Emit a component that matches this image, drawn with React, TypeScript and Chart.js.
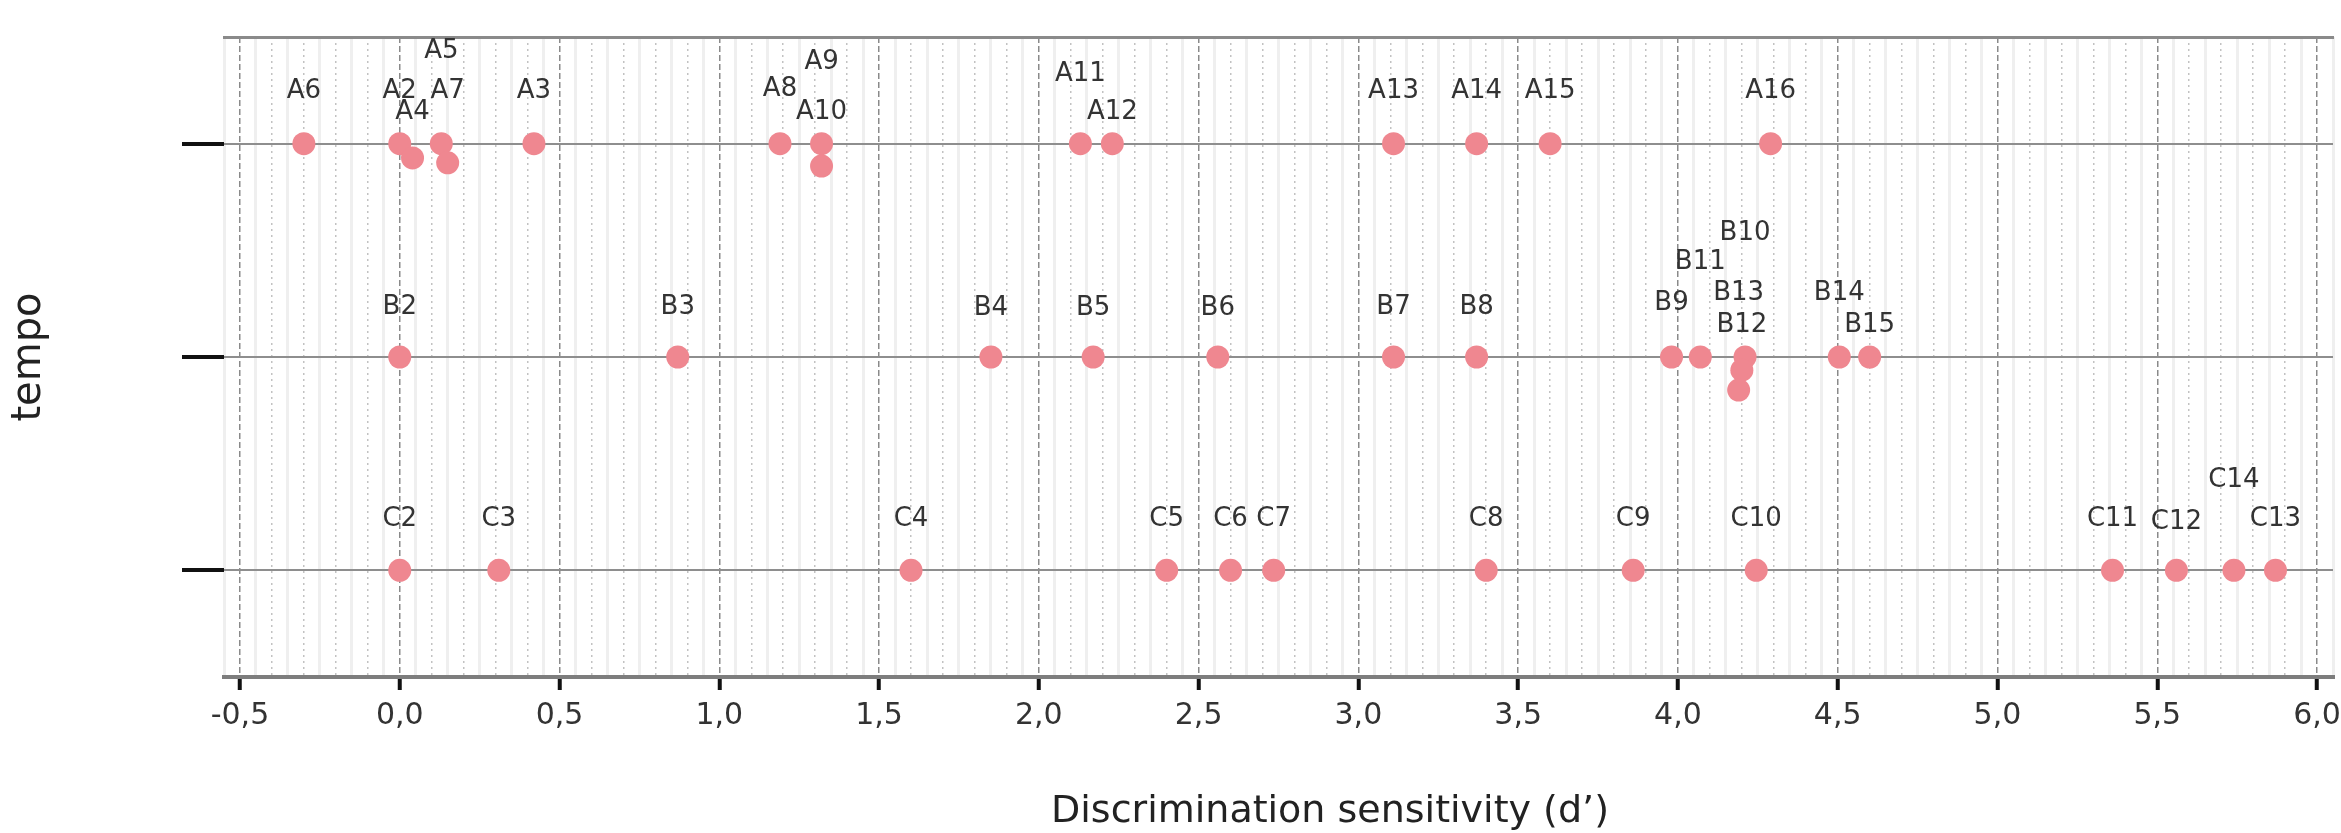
import { useEffect, useRef } from "react";
import { Chart, registerables } from "chart.js";

Chart.register(...registerables);

// ---------- data ----------
const ROW_A_NAMES = ["A2", "A3", "A4", "A5", "A6", "A7", "A8", "A9", "A10", "A11", "A12", "A13", "A14", "A15", "A16"];
const ROW_A_DPRIME = [0.0, 0.42, 0.04, 0.13, -0.3, 0.15, 1.19, 1.32, 1.32, 2.13, 2.23, 3.11, 3.37, 3.6, 4.29];
const ROW_A_Y = [3, 3, 2.933, 3, 3, 2.91, 3, 3, 2.895, 3, 3, 3, 3, 3, 3];

const ROW_B_NAMES = ["B2", "B3", "B4", "B5", "B6", "B7", "B8", "B9", "B10", "B11", "B12", "B13", "B14", "B15"];
const ROW_B_DPRIME = [0.0, 0.87, 1.85, 2.17, 2.56, 3.11, 3.37, 3.98, 4.21, 4.07, 4.2, 4.19, 4.505, 4.6];
const ROW_B_Y = [2, 2, 2, 2, 2, 2, 2, 2, 2, 2, 1.938, 1.845, 2, 2];

const ROW_C_NAMES = ["C2", "C3", "C4", "C5", "C6", "C7", "C8", "C9", "C10", "C11", "C12", "C13", "C14"];
const ROW_C_DPRIME = [0.0, 0.31, 1.6, 2.4, 2.6, 2.735, 3.4, 3.86, 4.245, 5.36, 5.56, 5.87, 5.74];
const ROW_C_Y = [1, 1, 1, 1, 1, 1, 1, 1, 1, 1, 1, 1, 1];

const ROW_LEVELS = [3, 2, 1]; // A, B, C rows on the y axis

// x axis ticks
const X_MIN = -0.55;
const X_MAX = 6.05;
const X_MAJOR_VALUES = [-0.5, 0, 0.5, 1, 1.5, 2, 2.5, 3, 3.5, 4, 4.5, 5, 5.5, 6];
const X_TICK_LABELS = ["-0,5", "0,0", "0,5", "1,0", "1,5", "2,0", "2,5", "3,0", "3,5", "4,0", "4,5", "5,0", "5,5", "6,0"];
const Y_MIN = 0.5;
const Y_MAX = 3.5;

const X_TITLE = "Discrimination sensitivity (d’)";
const Y_TITLE = "tempo";

// ---------- label layout (pixels above the row line) ----------
const ROW_A_LABEL_RISE = [52, 52, 31, 92, 52, 52, 54, 81, 31, 69, 31, 52, 52, 52, 52];
const ROW_B_LABEL_RISE = [50, 50, 49, 49, 49, 50, 50, 54, 124, 95, 32, 64, 64, 32];
const ROW_C_LABEL_RISE = [51, 51, 51, 51, 51, 51, 51, 51, 51, 51, 48, 51, 90];

const FONT = '"DejaVu Sans", "Liberation Sans", sans-serif';
const POINT_COLOR = "#EF8790";

const ROWS = [
  { names: ROW_A_NAMES, d: ROW_A_DPRIME, y: ROW_A_Y, rise: ROW_A_LABEL_RISE, level: ROW_LEVELS[0] },
  { names: ROW_B_NAMES, d: ROW_B_DPRIME, y: ROW_B_Y, rise: ROW_B_LABEL_RISE, level: ROW_LEVELS[1] },
  { names: ROW_C_NAMES, d: ROW_C_DPRIME, y: ROW_C_Y, rise: ROW_C_LABEL_RISE, level: ROW_LEVELS[2] },
];

function gridKind(v: number): "major" | "minor" | "micro" {
  const k = Math.round(v * 20);
  if (k % 10 === 0) return "major";
  if (k % 2 === 0) return "minor";
  return "micro";
}

function buildGridValues(): number[] {
  const out: number[] = [];
  const k0 = Math.round(X_MIN * 20);
  const k1 = Math.round(X_MAX * 20);
  for (let k = k0; k <= k1; k++) out.push(k / 20);
  return out;
}

const pointLabelPlugin = {
  id: "pointLabels",
  afterDatasetsDraw(chart: any) {
    const ctx = chart.ctx;
    const xs = chart.scales.x;
    const ys = chart.scales.y;
    ctx.save();
    ctx.font = `26px ${FONT}`;
    ctx.fillStyle = "#333333";
    ctx.textAlign = "center";
    ctx.textBaseline = "middle";
    ROWS.forEach((row) => {
      row.names.forEach((name, i) => {
        const px = xs.getPixelForValue(row.d[i]);
        const py = ys.getPixelForValue(row.level) - row.rise[i];
        ctx.fillText(name, px, py);
      });
    });
    ctx.restore();
  },
  afterDraw(chart: any) {
    // x-axis title, placed as in the original (not centred on the cropped plot)
    const ctx = chart.ctx;
    ctx.save();
    ctx.font = `38px ${FONT}`;
    ctx.fillStyle = "#222222";
    ctx.textAlign = "center";
    ctx.textBaseline = "alphabetic";
    ctx.fillText(X_TITLE, 1330, 822);
    ctx.restore();
  },
};

export default function App() {
  const ref = useRef<HTMLCanvasElement>(null);

  useEffect(() => {
    if (!ref.current) return;
    const gridValues = buildGridValues();
    const chart = new Chart(ref.current, {
      type: "scatter",
      data: {
        datasets: ROWS.map((row, r) => ({
          label: ["A", "B", "C"][r],
          data: row.d.map((x, i) => ({ x, y: row.y[i] })),
          backgroundColor: POINT_COLOR,
          borderColor: POINT_COLOR,
          borderWidth: 0,
          pointRadius: 11.5,
          pointHoverRadius: 11.5,
        })),
      },
      options: {
        responsive: false,
        animation: false,
        devicePixelRatio: 1,
        layout: { padding: { top: 37, left: 0, right: 0, bottom: 0 }, autoPadding: false },
        plugins: { legend: { display: false }, tooltip: { enabled: false } },
        scales: {
          x: {
            type: "linear",
            position: "bottom",
            min: X_MIN,
            max: X_MAX,
            afterBuildTicks: (scale: any) => {
              scale.ticks = gridValues.map((value) => ({ value }));
            },
            afterFit: (scale: any) => {
              scale.height = 156;
            },
            ticks: {
              autoSkip: false,
              maxRotation: 0,
              minRotation: 0,
              padding: 8,
              color: "#333333",
              font: { family: FONT, size: 30 },
              callback: (value: any) => {
                const idx = X_MAJOR_VALUES.findIndex((m) => Math.abs(m - Number(value)) < 1e-6);
                return idx >= 0 ? X_TICK_LABELS[idx] : "";
              },
            },
            grid: {
              drawOnChartArea: true,
              drawTicks: true,
              tickLength: 13,
              color: (c: any) => {
                const v = c.tick ? c.tick.value : 0;
                const k = gridKind(v);
                return k === "major" ? "#8a8a8a" : k === "minor" ? "#c2c2c2" : "#efefef";
              },
              lineWidth: (c: any) => {
                const v = c.tick ? c.tick.value : 0;
                const k = gridKind(v);
                return k === "major" ? 1.5 : k === "minor" ? 1.5 : 3;
              },
              tickColor: (c: any) => {
                const v = c.tick ? c.tick.value : 0;
                return gridKind(v) === "major" ? "#111111" : "rgba(0,0,0,0)";
              },
              tickWidth: 4,
            },
            border: {
              display: true,
              color: "#7d7d7d",
              width: 4,
              dash: (c: any) => {
                if (!c || !c.tick) return [];
                const k = gridKind(c.tick.value);
                return k === "major" ? [6, 3] : k === "minor" ? [2, 4] : [];
              },
            },
            title: { display: false },
          },
          xTop: {
            type: "linear",
            position: "top",
            min: X_MIN,
            max: X_MAX,
            afterFit: (scale: any) => {
              scale.height = 0;
            },
            ticks: { display: false },
            grid: { display: false, drawTicks: false, drawOnChartArea: false },
            border: { display: true, color: "#8a8a8a", width: 3 },
          },
          y: {
            type: "linear",
            position: "left",
            min: Y_MIN,
            max: Y_MAX,
            afterBuildTicks: (scale: any) => {
              scale.ticks = ROW_LEVELS.slice().reverse().map((value) => ({ value }));
            },
            afterFit: (scale: any) => {
              scale.width = 224;
            },
            ticks: { display: false },
            grid: {
              color: "#8e8e8e",
              lineWidth: 2,
              drawTicks: true,
              tickLength: 42,
              tickColor: "#111111",
              tickWidth: 4,
            },
            border: { display: false },
            title: {
              display: true,
              text: Y_TITLE,
              color: "#222222",
              font: { family: FONT, size: 40, weight: "normal" },
              padding: { top: 6, bottom: 0 },
            },
          },
        },
      },
      plugins: [pointLabelPlugin],
    } as any);
    return () => chart.destroy();
  }, []);

  return (
    <div style={{ position: "absolute", left: 0, top: 0, width: 2341, height: 833, background: "#ffffff" }}>
      <canvas ref={ref} width={2341} height={833} style={{ display: "block" }} />
    </div>
  );
}
